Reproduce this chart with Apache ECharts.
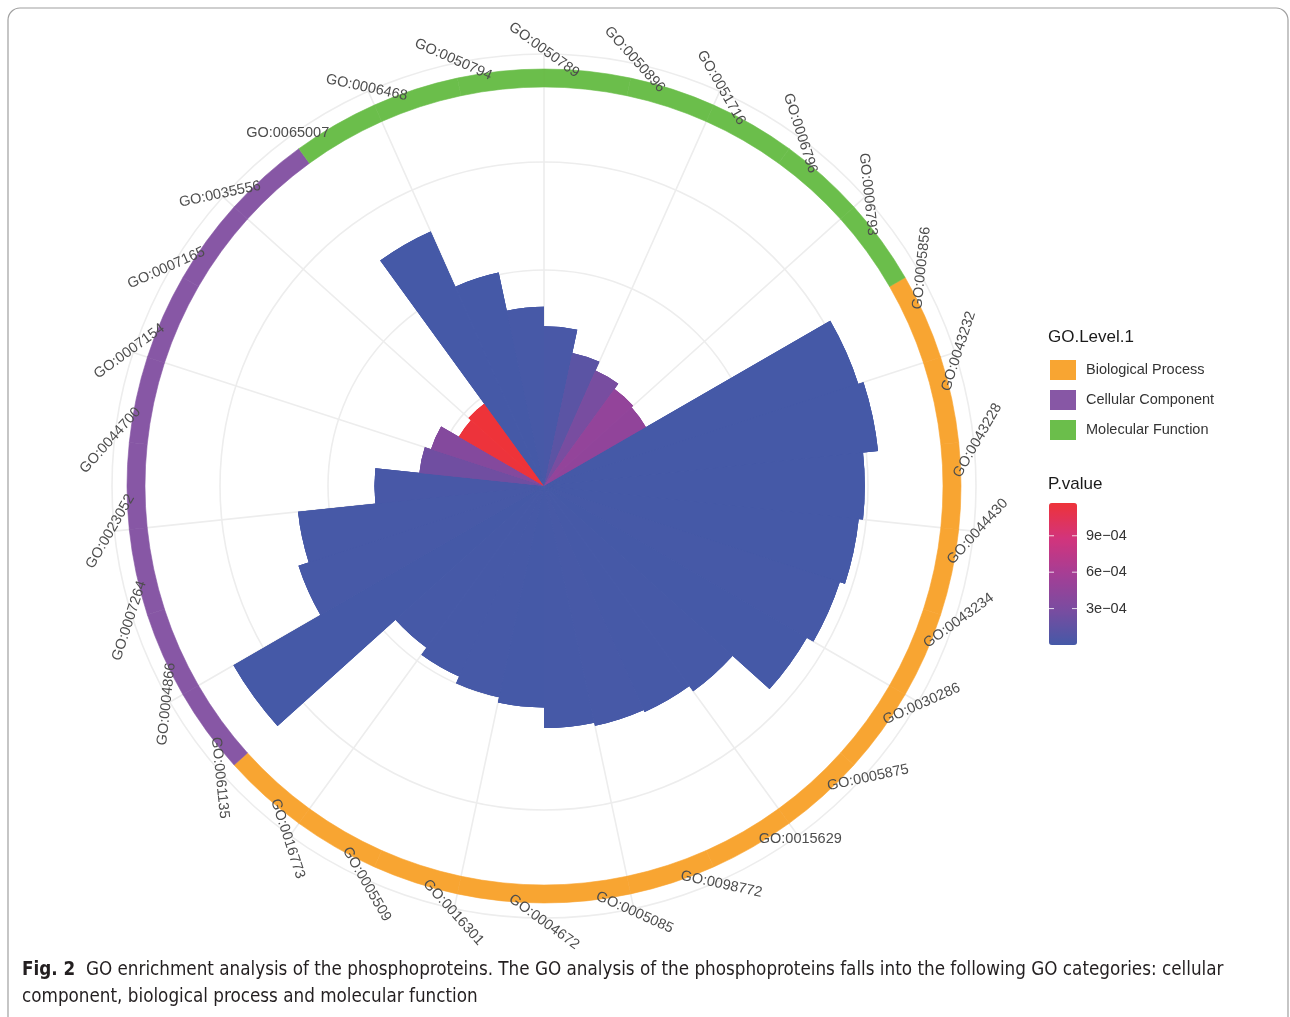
<!DOCTYPE html>
<html>
<head>
<meta charset="utf-8">
<script src="https://cdn.jsdelivr.net/npm/echarts@6/dist/echarts.min.js"></script>
<style>
  html, body { margin: 0; padding: 0; background: #fff; }
  #main { width: 1290px; height: 1017px; }
</style>
</head>
<body>
<div id="main"></div>
<script>
// GO terms, clockwise from 12 o'clock
var categories = [
  'GO:0050789', 'GO:0050896', 'GO:0051716', 'GO:0006796', 'GO:0006793',
  'GO:0005856', 'GO:0043232', 'GO:0043228', 'GO:0044430', 'GO:0043234',
  'GO:0030286', 'GO:0005875', 'GO:0015629', 'GO:0098772', 'GO:0005085',
  'GO:0004672', 'GO:0016301', 'GO:0005509', 'GO:0016773', 'GO:0061135',
  'GO:0004866', 'GO:0007264', 'GO:0023052', 'GO:0044700', 'GO:0007154',
  'GO:0007165', 'GO:0035556', 'GO:0065007', 'GO:0006468', 'GO:0050794'
];
// bar length
var barValues = [
  14.8, 12.6, 11.7, 11.1, 10.9,
  30.6, 31.1, 29.7, 29.3, 28.8,
  28.1, 23.5, 22.9, 22.7, 22.4,
  20.5, 20.0, 19.3, 18.5, 33.2,
  23.9, 22.9, 15.7, 11.6, 11.0,
  9.1, 9.4, 25.8, 20.2, 16.6
];
// P.value of every bar
var pValues = [
  2e-5, 1.2e-4, 2.8e-4, 4.6e-4, 4.5e-4,
  1e-6, 1e-6, 2e-6, 1e-6, 3e-6,
  2e-6, 5e-6, 4e-6, 1e-5, 8e-6,
  2e-6, 3e-6, 6e-6, 4e-6, 1e-6,
  9e-6, 1e-5, 1.5e-5, 2.4e-4, 3.6e-4,
  1.16e-3, 1.17e-3, 1e-6, 2e-6, 1e-5
];
// GO.Level.1 of the outer ring, as drawn
var ringGroups = [
  'MF', 'MF', 'MF', 'MF', 'MF',
  'BP', 'BP', 'BP', 'BP', 'BP',
  'BP', 'BP', 'BP', 'BP', 'BP',
  'BP', 'BP', 'BP', 'BP', 'CC',
  'CC', 'CC', 'CC', 'CC', 'CC',
  'CC', 'CC', 'MF', 'MF', 'MF'
];
var groupCodes = ['BP', 'CC', 'MF'];
var groupNames = ['Biological Process', 'Cellular Component', 'Molecular Function'];
var groupColors = ['#F8A532', '#8757A5', '#6BBE4B'];

var pMin = 0, pMax = 1.17e-3;
var pTicks = [3e-4, 6e-4, 9e-4];
var pTickLabels = ['3e\u221204', '6e\u221204', '9e\u221204'];
var pColors = ['#4559A7', '#7A4CA0', '#A53E95', '#D2347C', '#EE3339'];

var radiusMax = 40, radiusStep = 10;

var center = [544, 486];
var barBox = { left: 1049, top: 503, width: 28, height: 142 };

var myChart = echarts.init(document.getElementById('main'));

function tickY(v) {
  return barBox.top + (pMax - v) / (pMax - pMin) * barBox.height;
}

var graphics = [
  // outer frame of the figure
  { type: 'rect', shape: { x: 8, y: 8, width: 1280, height: 1040, r: 12 },
    style: { fill: 'none', stroke: '#a0a0a0', lineWidth: 1.2 }, silent: true },
  { type: 'text', left: 1048, top: 329,
    style: { text: 'GO.Level.1', font: '17px "Liberation Sans", Arial, sans-serif', fill: '#1a1a1a' } },
  { type: 'text', left: 1048, top: 476,
    style: { text: 'P.value', font: '17px "Liberation Sans", Arial, sans-serif', fill: '#1a1a1a' } },
  { type: 'text', left: 22, top: 957,
    style: {
      text: '{b|Fig. 2}  GO enrichment analysis of the phosphoproteins. The GO analysis of the phosphoproteins falls into the following GO categories: cellular\ncomponent, biological process and molecular function',
      font: '18.7px "Liberation Sans Narrow", "DejaVu Sans Condensed", sans-serif',
      fill: '#231f20', lineHeight: 27,
      rich: {
        b: { font: 'bold 18.7px "Liberation Sans Narrow", "DejaVu Sans Condensed", sans-serif', fill: '#231f20', lineHeight: 27 }
      }
    } }
];
pTicks.forEach(function (v, k) {
  var y = tickY(v);
  graphics.push({ type: 'line', shape: { x1: barBox.left, y1: y, x2: barBox.left + 5, y2: y },
    style: { stroke: 'rgba(255,255,255,0.8)', lineWidth: 1 }, z: 100 });
  graphics.push({ type: 'line', shape: { x1: barBox.left + barBox.width - 5, y1: y, x2: barBox.left + barBox.width, y2: y },
    style: { stroke: 'rgba(255,255,255,0.8)', lineWidth: 1 }, z: 100 });
  graphics.push({ type: 'text', x: 1086, y: y,
    style: { text: pTickLabels[k], font: '14.5px "Liberation Sans", Arial, sans-serif', fill: '#333',
      verticalAlign: 'middle', align: 'left' } });
});

// the bars are laid three times on top of each other so the seams between wedges close up
var barSeries = [0, 1, 2].map(function () {
  return {
    type: 'bar',
    name: 'P.value',
    coordinateSystem: 'polar',
    polarIndex: 0,
    barCategoryGap: '0%',
    barGap: '-100%',
    data: categories.map(function (c, i) { return [barValues[i], c, pValues[i]]; })
  };
});

var ringSeries = groupCodes.map(function (code, k) {
  return {
    type: 'bar',
    name: groupNames[k],
    coordinateSystem: 'polar',
    polarIndex: 1,
    barCategoryGap: '0%',
    barGap: '-100%',
    itemStyle: { color: groupColors[k], borderColor: groupColors[k], borderWidth: 0.6 },
    silent: true,
    data: ringGroups.map(function (g) { return g === code ? 1 : '-'; })
  };
});

var labelSeries = {
  type: 'custom',
  coordinateSystem: 'polar',
  polarIndex: 2,
  silent: true,
  z: 10,
  data: categories.map(function (c) { return [1, c]; }),
  renderItem: function (params, api) {
    var pt = api.coord([api.value(0), api.value(1)]);
    var cs = params.coordSys;
    var theta = Math.atan2(pt[0] - cs.cx, cs.cy - pt[1]) * 180 / Math.PI;
    var rot = 144 - theta;
    while (rot > 90) rot -= 180;
    while (rot <= -90) rot += 180;
    return {
      type: 'text',
      x: pt[0], y: pt[1],
      rotation: rot * Math.PI / 180,
      style: {
        text: categories[params.dataIndex],
        font: '14.5px "Liberation Sans", Arial, sans-serif',
        fill: '#4d4d4d', align: 'center', verticalAlign: 'middle'
      }
    };
  }
};

var option = {
  animation: false,
  polar: [
    { center: center, radius: [0, 432] },
    { center: center, radius: [399, 417] },
    { center: center, radius: [0, 436] }
  ],
  angleAxis: [
    {
      polarIndex: 0, type: 'category', data: categories, startAngle: 90, clockwise: true,
      boundaryGap: true,
      axisLine: { show: false }, axisTick: { show: false }, axisLabel: { show: false },
      splitLine: { show: true, lineStyle: { color: '#ededed', width: 1.6 } }
    },
    {
      polarIndex: 1, type: 'category', data: categories, startAngle: 90, clockwise: true,
      boundaryGap: true, show: false
    },
    {
      // half a slot back, so labels sit on the spokes
      polarIndex: 2, type: 'category', data: categories, startAngle: 96, clockwise: true,
      boundaryGap: true, show: false
    }
  ],
  radiusAxis: [
    {
      polarIndex: 0, type: 'value', min: 0, max: radiusMax, interval: radiusStep,
      axisLine: { show: false }, axisTick: { show: false }, axisLabel: { show: false },
      splitLine: { show: true, lineStyle: { color: '#ededed', width: 1.6 } }
    },
    { polarIndex: 1, type: 'value', min: 0, max: 1, show: false },
    { polarIndex: 2, type: 'value', min: 0, max: 1, show: false }
  ],
  legend: {
    orient: 'vertical', left: 1050, top: 360, padding: 0,
    itemWidth: 24, itemHeight: 18, itemGap: 10, icon: 'rect',
    selectedMode: false,
    data: groupNames,
    textStyle: { fontSize: 14.5, fontFamily: 'Liberation Sans', color: '#333', padding: [0, 0, 0, 6] }
  },
  visualMap: {
    type: 'continuous',
    seriesIndex: [0, 1, 2],
    dimension: 2,
    min: pMin, max: pMax,
    calculable: false,
    hoverLink: false,
    left: barBox.left, top: barBox.top, padding: 0,
    itemWidth: barBox.width, itemHeight: barBox.height,
    text: null,
    inRange: { color: pColors }
  },
  series: barSeries.concat(ringSeries).concat([labelSeries]),
  graphic: graphics
};

myChart.setOption(option, true);
</script>
</body>
</html>
